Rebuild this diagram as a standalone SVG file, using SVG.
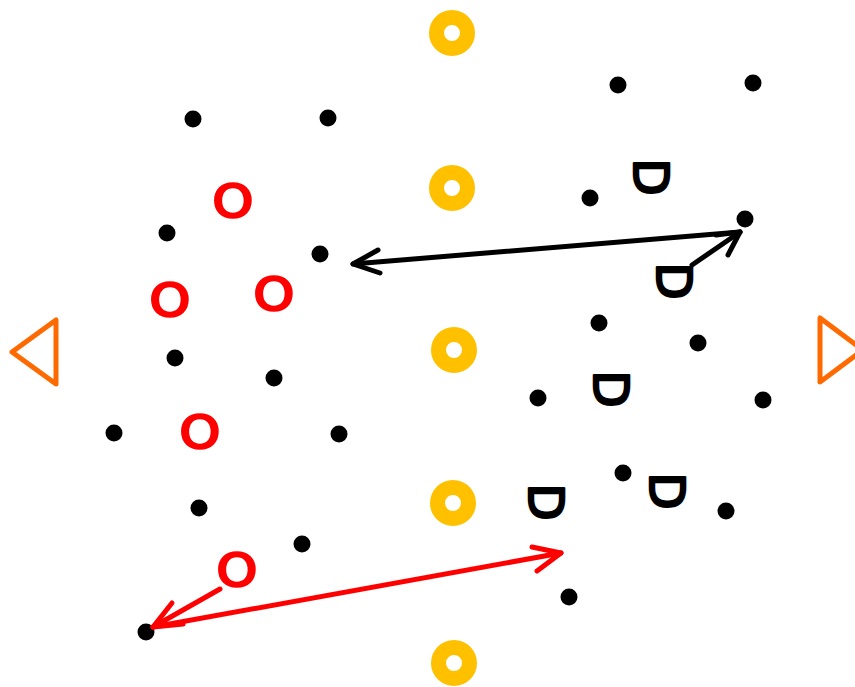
<svg xmlns="http://www.w3.org/2000/svg" width="855" height="687" viewBox="0 0 855 687">
<defs>
<style>
.dot{fill:#000}
.ring{fill:none;stroke:#FFC000;stroke-width:15}
.cone{fill:none;stroke:#FF6A00;stroke-width:5;stroke-linejoin:round}
.o{font-family:"DejaVu Sans",sans-serif;font-size:48px;fill:#FF0000;stroke:#FF0000;stroke-width:2.5;stroke-linejoin:round;text-anchor:middle}
.d{font-family:"DejaVu Sans",sans-serif;font-size:48px;fill:#000;stroke:#000;stroke-width:2.5;stroke-linejoin:round;text-anchor:middle}
.lk{fill:none;stroke:#000;stroke-width:5;stroke-linecap:round;stroke-linejoin:round}
.lr{fill:none;stroke:#FF0000;stroke-width:5;stroke-linecap:round;stroke-linejoin:round}
</style>
</defs>
<rect width="855" height="687" fill="#fff"/>
<g id="rings">
<circle class="ring" cx="452" cy="33" r="15.5"/>
<circle class="ring" cx="452" cy="188" r="15.5"/>
<circle class="ring" cx="454" cy="350" r="15.5"/>
<circle class="ring" cx="453" cy="503" r="15.5"/>
<circle class="ring" cx="454" cy="663" r="15.5"/>
</g>
<g id="cones">
<polygon class="cone" points="12,352 56,320 56,384"/>
<polygon class="cone" points="863,350 820,318 820,382"/>
</g>
<g id="dots">
<circle class="dot" cx="193" cy="119" r="8.5"/>
<circle class="dot" cx="328" cy="118" r="8.5"/>
<circle class="dot" cx="618" cy="85" r="8.5"/>
<circle class="dot" cx="753" cy="83" r="8.5"/>
<circle class="dot" cx="590" cy="198" r="8.5"/>
<circle class="dot" cx="745" cy="219" r="8.5"/>
<circle class="dot" cx="167" cy="233" r="8.5"/>
<circle class="dot" cx="320" cy="254" r="8.5"/>
<circle class="dot" cx="599" cy="323" r="8.5"/>
<circle class="dot" cx="698" cy="343" r="8.5"/>
<circle class="dot" cx="175" cy="358" r="8.5"/>
<circle class="dot" cx="274" cy="378" r="8.5"/>
<circle class="dot" cx="538" cy="398" r="8.5"/>
<circle class="dot" cx="763" cy="400" r="8.5"/>
<circle class="dot" cx="114" cy="433" r="8.5"/>
<circle class="dot" cx="339" cy="434" r="8.5"/>
<circle class="dot" cx="623" cy="473" r="8.5"/>
<circle class="dot" cx="726" cy="511" r="8.5"/>
<circle class="dot" cx="199" cy="508" r="8.5"/>
<circle class="dot" cx="302" cy="544" r="8.5"/>
<circle class="dot" cx="569" cy="597" r="8.5"/>
<circle class="dot" cx="146" cy="632" r="8.5"/>
</g>
<g id="offense">
<g transform="translate(233,201) scale(1.08,0.93)"><text class="o" x="0" y="17.5">O</text></g>
<g transform="translate(170,300) scale(1.08,0.93)"><text class="o" x="0" y="17.5">O</text></g>
<g transform="translate(274,294) scale(1.08,0.93)"><text class="o" x="0" y="17.5">O</text></g>
<g transform="translate(200,432) scale(1.08,0.93)"><text class="o" x="0" y="17.5">O</text></g>
<g transform="translate(237,570) scale(1.08,0.93)"><text class="o" x="0" y="17.5">O</text></g>
</g>
<g id="defense">
<g transform="translate(651,177) rotate(90)"><text class="d" x="0" y="17.5">D</text></g>
<g transform="translate(674,281) rotate(90)"><text class="d" x="0" y="17.5">D</text></g>
<g transform="translate(611,389) rotate(90)"><text class="d" x="0" y="17.5">D</text></g>
<g transform="translate(546,502) rotate(90)"><text class="d" x="0" y="17.5">D</text></g>
<g transform="translate(667,491) rotate(90)"><text class="d" x="0" y="17.5">D</text></g>
</g>
<g id="connectors">
<path class="lk" d="M740,232 L353,264"/>
<path class="lk" d="M378,250 L353,264 L380,273"/>
<path class="lk" d="M692,265 L740,232"/>
<path class="lk" d="M716,235 L740,232 L728,255"/>
<path class="lr" d="M153,627 L561,553"/>
<path class="lr" d="M532,547 L561,553 L537,571"/>
<path class="lr" d="M220,589 L153,627"/>
<path class="lr" d="M172,603 L153,627 L183,624"/>
</g>
</svg>
